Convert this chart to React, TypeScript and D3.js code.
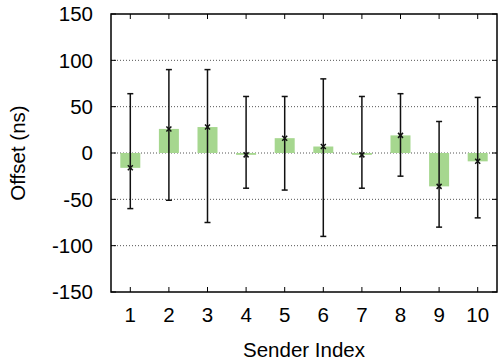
import React, { useRef, useEffect } from 'react';
import * as d3 from 'd3';

const senders = [1, 2, 3, 4, 5, 6, 7, 8, 9, 10];
const offsets = [-16, 26, 28, -2, 16, 7, -2, 19, -36, -9];
const errLow = [-60, -51, -75, -38, -40, -90, -38, -25, -80, -70];
const errHigh = [64, 90, 90, 61, 61, 80, 61, 64, 34, 60];
const yTicks = [-150, -100, -50, 0, 50, 100, 150];
const gridTicks = [-100, -50, 0, 50, 100];

export default function App() {
  const svgRef = useRef<SVGSVGElement>(null);
  const width = 499;
  const height = 360;
  const margin = { top: 14, right: 2, bottom: 68, left: 111 };

  useEffect(() => {
    const svg = d3.select(svgRef.current);
    svg.selectAll('*').remove();
    const font = '"Liberation Sans", Arial, Helvetica, sans-serif';
    const fs = 20.5;

    const x = d3.scaleLinear()
      .domain([0.5, 10.5])
      .range([margin.left, width - margin.right]);
    const y = d3.scaleLinear()
      .domain([-150, 150])
      .range([height - margin.bottom, margin.top]);
    const barW = 20;

    // grid
    svg.append('g')
      .selectAll('line')
      .data(gridTicks)
      .join('line')
      .attr('x1', margin.left)
      .attr('x2', width - margin.right)
      .attr('y1', d => y(d))
      .attr('y2', d => y(d))
      .attr('stroke', '#555')
      .attr('stroke-width', 1)
      .attr('stroke-dasharray', '1,2');

    // bars
    svg.append('g')
      .selectAll('rect')
      .data(offsets)
      .join('rect')
      .attr('x', (d, i) => x(senders[i]) - barW / 2)
      .attr('y', d => y(Math.max(0, d)))
      .attr('width', barW)
      .attr('height', d => Math.abs(y(d) - y(0)))
      .attr('fill', '#a6d78f');

    // error bars
    const eb = svg.append('g').attr('stroke', '#111').attr('stroke-width', 1.5);
    senders.forEach((s, i) => {
      const cx = x(s);
      eb.append('line').attr('x1', cx).attr('x2', cx).attr('y1', y(errLow[i])).attr('y2', y(errHigh[i]));
      eb.append('line').attr('x1', cx - 3).attr('x2', cx + 3).attr('y1', y(errLow[i])).attr('y2', y(errLow[i]));
      eb.append('line').attr('x1', cx - 3).attr('x2', cx + 3).attr('y1', y(errHigh[i])).attr('y2', y(errHigh[i]));
      const cy = y(offsets[i]);
      eb.append('path')
        .attr('d', `M${cx - 2.5},${cy - 2.5}L${cx + 2.5},${cy + 2.5}M${cx - 2.5},${cy + 2.5}L${cx + 2.5},${cy - 2.5}`)
        .attr('stroke-width', 1.5);
    });

    // frame
    svg.append('rect')
      .attr('x', margin.left)
      .attr('y', margin.top)
      .attr('width', width - margin.right - margin.left)
      .attr('height', height - margin.bottom - margin.top)
      .attr('fill', 'none')
      .attr('stroke', '#000')
      .attr('stroke-width', 1.5);

    // ticks (mirrored, inward)
    const ticks = svg.append('g').attr('stroke', '#000').attr('stroke-width', 1);
    yTicks.forEach(t => {
      ticks.append('line').attr('x1', margin.left).attr('x2', margin.left + 5).attr('y1', y(t)).attr('y2', y(t));
      ticks.append('line').attr('x1', width - margin.right).attr('x2', width - margin.right - 5).attr('y1', y(t)).attr('y2', y(t));
    });
    senders.forEach(s => {
      ticks.append('line').attr('x1', x(s)).attr('x2', x(s)).attr('y1', height - margin.bottom).attr('y2', height - margin.bottom - 5);
      ticks.append('line').attr('x1', x(s)).attr('x2', x(s)).attr('y1', margin.top).attr('y2', margin.top + 5);
    });

    // tick labels
    svg.append('g')
      .selectAll('text')
      .data(yTicks)
      .join('text')
      .attr('x', margin.left - 18)
      .attr('y', d => y(d))
      .attr('dy', '0.35em')
      .attr('text-anchor', 'end')
      .attr('font-family', font)
      .attr('font-size', fs)
      .text(d => d);

    svg.append('g')
      .selectAll('text')
      .data(senders)
      .join('text')
      .attr('x', d => x(d))
      .attr('y', 322)
      .attr('text-anchor', 'middle')
      .attr('font-family', font)
      .attr('font-size', fs)
      .text(d => d);

    svg.append('text')
      .attr('x', (margin.left + width - margin.right) / 2)
      .attr('y', 357)
      .attr('text-anchor', 'middle')
      .attr('font-family', font)
      .attr('font-size', fs)
      .text('Sender Index');

    svg.append('text')
      .attr('transform', `translate(25,${y(0)}) rotate(-90)`)
      .attr('text-anchor', 'middle')
      .attr('font-family', font)
      .attr('font-size', fs)
      .text('Offset (ns)');
  }, []);

  return (
    <svg ref={svgRef} width={width} height={height}
      style={{ position: 'absolute', left: 0, top: 0 }} />
  );
}
